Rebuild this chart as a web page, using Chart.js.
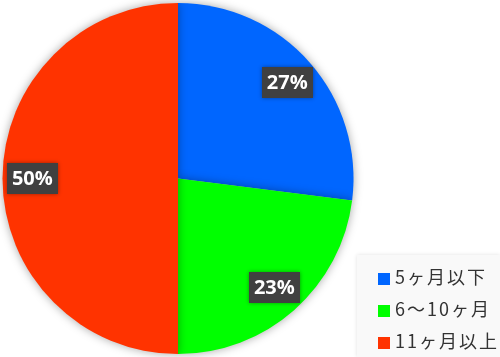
<!DOCTYPE html>
<html><head><meta charset="utf-8">
<script src="https://cdn.jsdelivr.net/npm/chart.js@4/dist/chart.umd.min.js"></script>
<style>
html,body{margin:0;padding:0;background:#fff;}
#wrap{position:relative;width:500px;height:357px;}
#legend{position:absolute;left:357px;top:255px;width:143px;height:102px;background:#f9f9f9;box-shadow:0 0 4px rgba(0,0,0,0.12);font-family:"Noto Sans CJK JP","Noto Sans",sans-serif;font-size:18px;color:#333;}
.item{position:absolute;left:21px;height:24px;line-height:24px;white-space:nowrap;letter-spacing:2px;}
.sw{display:inline-block;width:12px;height:12px;margin-right:5px;vertical-align:-1px;}
</style></head>
<body><div id="wrap"><canvas id="c" width="500" height="357"></canvas><div id="legend"></div></div>
<script>
const categories = ["5ヶ月以下", "6〜10ヶ月", "11ヶ月以上"];
const values = [27, 23, 50];
const colors = ["#0066FF", "#00FF00", "#FF3300"];

const leg = document.getElementById('legend');
categories.forEach((c,i)=>{
  const d=document.createElement('div');d.className='item';d.style.top=(9+i*32)+'px';
  d.innerHTML='<span class="sw" style="background:'+colors[i]+'"></span>'+c;
  leg.appendChild(d);
});

const shadowPlugin = {
  id:'shadow',
  beforeDatasetsDraw(chart){const ctx=chart.ctx;ctx.save();ctx.shadowColor='rgba(0,0,0,0.35)';ctx.shadowBlur=10;},
  afterDatasetsDraw(chart){chart.ctx.restore();}
};
const labelPlugin = {
  id:'labels',
  afterDraw(chart){
    const ctx=chart.ctx;const meta=chart.getDatasetMeta(0);
    const total=values.reduce((a,b)=>a+b,0);
    meta.data.forEach((arc,i)=>{
      const p=arc.getProps(['startAngle','endAngle','outerRadius','x','y'],true);
      const a=(p.startAngle+p.endAngle)/2;const r=p.outerRadius*0.83;
      const x=p.x+Math.cos(a)*r,y=p.y+Math.sin(a)*r;
      const txt=Math.round(values[i]/total*100)+'%';
      ctx.save();
      ctx.font='bold 20px "Open Sans","Noto Sans",sans-serif';
      const w=ctx.measureText(txt).width+10,h=31;
      ctx.shadowColor='rgba(0,0,0,0.4)';ctx.shadowBlur=4;
      ctx.fillStyle='#404040';ctx.fillRect(Math.round(x-w/2),Math.round(y-h/2),Math.round(w),h);
      ctx.shadowBlur=0;ctx.fillStyle='#fff';ctx.textAlign='center';ctx.textBaseline='middle';
      ctx.fillText(txt,x,y+1);
      ctx.restore();
    });
  }
};
new Chart(document.getElementById('c'),{
  type:'pie',
  data:{labels:categories,datasets:[{data:values,backgroundColor:colors,borderWidth:0}]},
  options:{responsive:false,animation:false,
    layout:{padding:{left:2,right:146,top:3,bottom:3}},
    plugins:{legend:{display:false},tooltip:{enabled:false}}},
  plugins:[shadowPlugin,labelPlugin]
});
</script></body></html>
